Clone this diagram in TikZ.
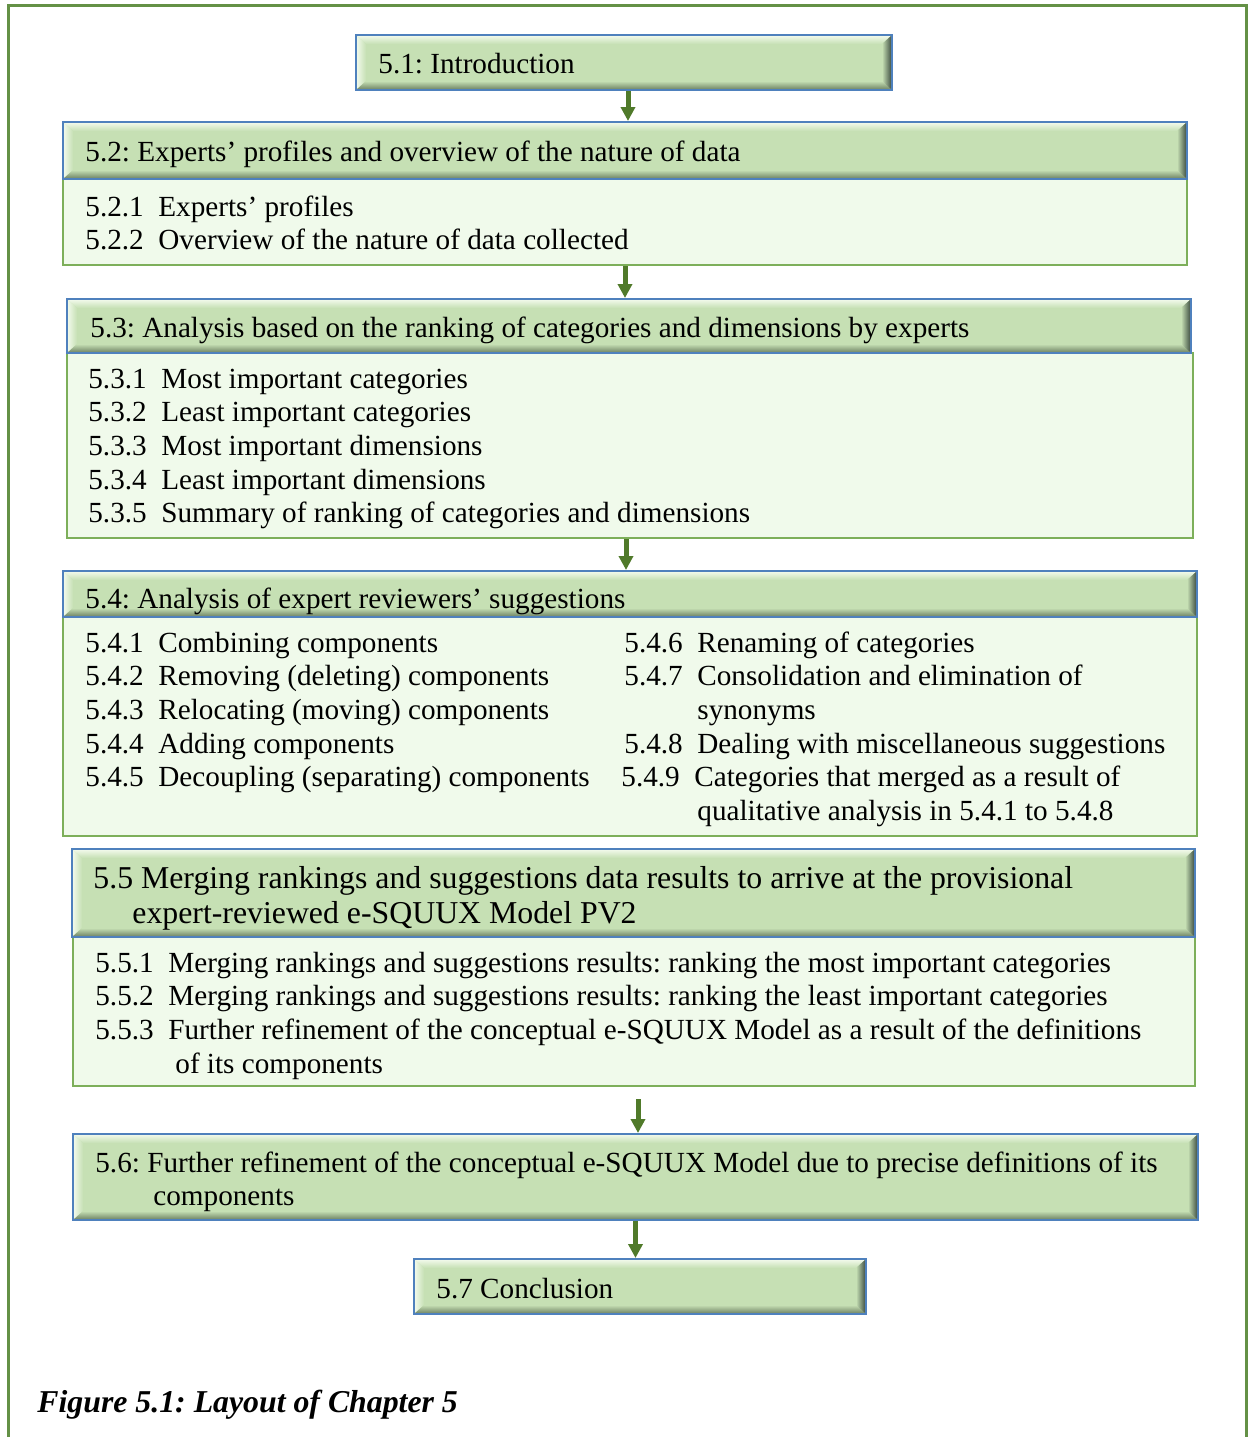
\documentclass[tikz,border=0pt]{standalone}
\usepackage{fontspec}
\usepackage{array}
\setmainfont{Liberation Serif}
\usetikzlibrary{fit,arrows.meta}
\frenchspacing

\definecolor{hdrfill}{RGB}{198,224,180}
\definecolor{hdrline}{RGB}{79,129,189}
\definecolor{bodyfill}{RGB}{240,250,235}
\definecolor{bodyline}{RGB}{125,175,90}
\definecolor{framegreen}{RGB}{100,145,70}
\definecolor{arrowgreen}{RGB}{80,122,42}
\definecolor{bevlight}{RGB}{244,251,238}
\definecolor{bevdark}{RGB}{105,125,95}
\definecolor{bevdeep}{RGB}{55,70,60}

\newcolumntype{N}{w{l}{36.5pt}}

\tikzset{
  bevel/.style={path picture={
    \path (path picture bounding box.north west) coordinate (bNW)
          (path picture bounding box.north east) coordinate (bNE)
          (path picture bounding box.south west) coordinate (bSW)
          (path picture bounding box.south east) coordinate (bSE);
    \shade[top color=bevlight, bottom color=hdrfill]
      (bNW) -- (bNE) -- ([shift={(-5pt,-4.5pt)}]bNE) -- ([shift={(5pt,-4.5pt)}]bNW) -- cycle;
    \shade[left color=bevlight, right color=hdrfill]
      (bNW) -- ([shift={(5pt,-4.5pt)}]bNW) -- ([shift={(5pt,4.5pt)}]bSW) -- (bSW) -- cycle;
    \shade[top color=hdrfill, bottom color=bevdark]
      (bSW) -- ([shift={(5pt,4.5pt)}]bSW) -- ([shift={(-5pt,4.5pt)}]bSE) -- (bSE) -- cycle;
    \shade[left color=hdrfill, right color=bevdeep]
      (bNE) -- (bSE) -- ([shift={(-5pt,4.5pt)}]bSE) -- ([shift={(-5pt,-4.5pt)}]bNE) -- cycle;
  }},
  bodyedge/.style={path picture={
    \draw[bevdeep, line width=1.2pt]
      (path picture bounding box.north east) -- (path picture bounding box.south east);
  }}
}

\begin{document}
\begin{tikzpicture}[x=0.5pt,y=-0.5pt,
  txt/.style={anchor=base west, inner sep=0pt, font=\fontsize{14.6}{16.85}\selectfont},
  bigtxt/.style={anchor=base west, inner sep=0pt, font=\fontsize{15.9}{17.5}\selectfont},
  captiontext/.style={anchor=base west, inner sep=0pt, font=\fontsize{15.9}{18}\selectfont\bfseries\itshape},
  hdr/.style={draw=hdrline, line width=1pt, fill=hdrfill, inner sep=0pt, bevel},
  body/.style={draw=bodyline, line width=1.2pt, fill=bodyfill, inner sep=0pt, bodyedge},
  flow/.style={draw=arrowgreen, line width=2.5pt, -{Triangle[width=7pt,length=7pt]}},
  pageframe/.style={draw=framegreen, line width=1.5pt}]

\useasboundingbox (0,0) rectangle (1248,1437);

% page frame, open at the bottom
\draw[pageframe] (8,1437) -- (8,5) -- (1246,5) -- (1246,1437);

% section boxes
\node[hdr,  fit={(356,35) (892,90)}]     (intro) {};
\node[body, fit={(63,179) (1187,265)}]   (b52) {};
\node[hdr,  fit={(63,122) (1187,179)}]   (h52) {};
\node[body, fit={(67,353) (1193,538)}]   (b53) {};
\node[hdr,  fit={(67,299) (1191,353)}]   (h53) {};
\node[body, fit={(63,617) (1197,836)}]   (b54) {};
\node[hdr,  fit={(63,571) (1197,617)}]   (h54) {};
\node[body, fit={(73,937) (1195,1086)}]  (b55) {};
\node[hdr,  fit={(72,849) (1195,937)}]   (h55) {};
\node[hdr,  fit={(73,1134) (1198,1220)}] (h56) {};
\node[hdr,  fit={(414,1259) (866,1314)}] (concl) {};

% texts
\node[txt] (t51) at (378,73) {5.1: Introduction};

\node[txt] (t52) at (85,161) {5.2: Experts’ profiles and overview of the nature of data};
\node[txt] (t52l) at (85,216) {\begin{tabular}[t]{@{}N@{}l@{}}
5.2.1 & Experts’ profiles\\
5.2.2 & Overview of the nature of data collected
\end{tabular}};

\node[txt] (t53) at (90,337) {5.3: Analysis based on the ranking of categories and dimensions by experts};
\node[txt] (t53l) at (88,388) {\begin{tabular}[t]{@{}N@{}l@{}}
5.3.1 & Most important categories\\
5.3.2 & Least important categories\\
5.3.3 & Most important dimensions\\
5.3.4 & Least important dimensions\\
5.3.5 & Summary of ranking of categories and dimensions
\end{tabular}};

\node[txt] (t54) at (85,608) {5.4: Analysis of expert reviewers’ suggestions};
\node[txt] (t54l) at (85,652) {\begin{tabular}[t]{@{}N@{}l@{}}
5.4.1 & Combining components\\
5.4.2 & Removing (deleting) components\\
5.4.3 & Relocating (moving) components\\
5.4.4 & Adding components\\
5.4.5 & Decoupling (separating) components
\end{tabular}};
\node[txt] (t54r) at (624,652) {\begin{tabular}[t]{@{}N@{}l@{}}
5.4.6 & Renaming of categories\\
5.4.7 & Consolidation and elimination of\\
      & synonyms\\
5.4.8 & Dealing with miscellaneous suggestions\\
\hspace*{-1.5pt}5.4.9 & \hspace*{-1.5pt}Categories that merged as a result of\\
      & qualitative analysis in 5.4.1 to 5.4.8
\end{tabular}};

\node[bigtxt] (t55) at (93,888) {\begin{tabular}[t]{@{}l@{}}
5.5 Merging rankings and suggestions data results to arrive at the provisional\\
\hspace*{19.5pt}expert-reviewed e-SQUUX Model PV2
\end{tabular}};
\node[txt] (t55l) at (95,972) {\begin{tabular}[t]{@{}N@{}l@{}}
5.5.1 & Merging rankings and suggestions results: ranking the most important categories\\
5.5.2 & Merging rankings and suggestions results: ranking the least important categories\\
5.5.3 & Further refinement of the conceptual e-SQUUX Model as a result of the definitions\\
      & \hspace*{3.5pt}of its components
\end{tabular}};

\node[txt] (t56) at (95,1172) {\begin{tabular}[t]{@{}l@{}}
5.6: Further refinement of the conceptual e-SQUUX Model due to precise definitions of its\\
\hspace*{29pt}components
\end{tabular}};

\node[txt] (t57) at (436,1298) {5.7 Conclusion};

\node[captiontext] (caption) at (37,1412) {Figure 5.1: Layout of Chapter 5};

% connectors
\draw[flow] ([xshift=2pt]intro.south) -- ([xshift=2pt]intro.south |- h52.north);
\draw[flow] (b52.south) -- (b52.south |- h53.north);
\draw[flow] ([xshift=-2pt]b53.south) -- ([xshift=-2pt]b53.south |- h54.north);
\draw[flow] ([shift={(2pt,-6pt)}]b55.south) -- ([xshift=2pt]b55.south |- h56.north);
\draw[flow] (h56.south) -- (h56.south |- concl.north);
\end{tikzpicture}
\end{document}
